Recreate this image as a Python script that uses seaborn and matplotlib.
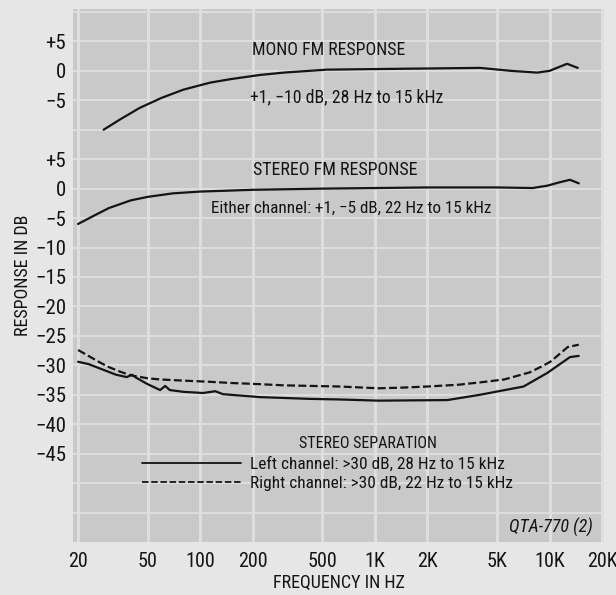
import matplotlib
matplotlib.use("Agg")
import matplotlib.pyplot as plt
import pandas as pd
import seaborn as sns
from matplotlib import font_manager
from matplotlib.lines import Line2D

# ---- Frequency response readings (frequency in Hz, level in dB) ----
mono_freq = [28, 35, 45, 60, 80, 114, 150, 220, 300, 530, 1000, 2000, 4000,
             6000, 8500, 10000, 12600, 14500]
mono_db = [-10.0, -8.2, -6.3, -4.6, -3.2, -2.0, -1.4, -0.7, -0.3, 0.2, 0.3,
           0.4, 0.5, 0.0, -0.3, 0.0, 1.2, 0.5]

stereo_freq = [20, 25, 30, 40, 50, 70, 100, 200, 500, 1000, 2000, 5000, 8000,
               9700, 11500, 13100, 14700]
stereo_db = [-6.0, -4.5, -3.3, -2.0, -1.4, -0.8, -0.5, -0.2, 0.0, 0.1, 0.2,
             0.2, 0.1, 0.5, 1.1, 1.5, 0.9]

left_freq = [20, 23, 27, 33, 38, 40.6, 43, 50, 59, 63, 67, 80, 104, 122, 135,
             220, 426, 630, 1050, 2600, 4000, 7100, 9700, 13100, 14700]
left_db = [-29.4, -29.8, -30.6, -31.6, -32.0, -31.6, -32.1, -33.2, -34.2,
           -33.5, -34.2, -34.5, -34.7, -34.4, -34.9, -35.4, -35.7, -35.8,
           -36.0, -35.9, -35.0, -33.6, -31.3, -28.6, -28.4]

right_freq = [20, 27, 30, 35, 40, 50, 59, 80, 114, 150, 220, 300, 630, 1050,
              1400, 2000, 3000, 4000, 5500, 7700, 9000, 10100, 11500, 12700,
              14700]
right_db = [-27.4, -29.6, -30.3, -31.1, -31.7, -32.2, -32.4, -32.6, -32.8,
            -33.0, -33.2, -33.4, -33.6, -33.9, -33.8, -33.6, -33.3, -32.9,
            -32.4, -31.2, -30.2, -29.4, -28.0, -26.9, -26.5]

x_ticks = [20, 50, 100, 200, 500, 1000, 2000, 5000, 10000, 20000]
x_tick_labels = ["20", "50", "100", "200", "500", "1K", "2K", "5K", "10K", "20K"]

mono_ticks = [5, 0, -5]
stereo_ticks = [5, 0, -5, -10, -15, -20, -25, -30, -35, -40, -45]

# mono trace sits on its own stacked scale, 20 dB above the stereo scale
MONO_OFFSET = 20

W, H = 616, 595
BG = "#e6e6e6"
PANEL = "#c9c9c9"
GRID = "#dedede"
INK = "#141414"
DASH = (3.6, 1.5)

sns.set_theme(style="white")


def pick_narrow_family():
    """Prefer a narrow/condensed sans face; fall back to DejaVu Sans."""
    entries = font_manager.fontManager.ttflist
    names = {f.name for f in entries}
    for fam in ["Liberation Sans Narrow", "Roboto Condensed",
                "DejaVu Sans Condensed", "Noto Sans Condensed",
                "Open Sans Condensed"]:
        if fam in names:
            return fam, "normal"
    for fam in ["DejaVu Sans", "Noto Sans", "Roboto", "Open Sans"]:
        for f in entries:
            if f.name == fam and f.stretch in ("condensed", "semi-condensed"):
                return fam, f.stretch
    return "DejaVu Sans", "normal"


FAMILY, STRETCH = pick_narrow_family()
plt.rcParams["font.family"] = [FAMILY, "DejaVu Sans"]
plt.rcParams["font.stretch"] = STRETCH
plt.rcParams["axes.unicode_minus"] = True


def sgn(v):
    if v > 0:
        return f"+{v}"
    if v < 0:
        return f"\u2212{abs(v)}"
    return "0"


frames = [
    pd.DataFrame({"freq": mono_freq,
                  "level": [v + MONO_OFFSET for v in mono_db],
                  "trace": "mono"}),
    pd.DataFrame({"freq": stereo_freq, "level": stereo_db, "trace": "stereo"}),
    pd.DataFrame({"freq": left_freq, "level": left_db, "trace": "left"}),
    pd.DataFrame({"freq": right_freq, "level": right_db, "trace": "right"}),
]
df = pd.concat(frames, ignore_index=True)

fig = plt.figure(figsize=(W / 100, H / 100), dpi=100, facecolor=BG)
ax = fig.add_axes([73 / W, 1 - 542 / H, (604 - 73) / W, (542 - 9) / H])
ax.set_facecolor(PANEL)

sns.lineplot(
    data=df, x="freq", y="level", hue="trace", style="trace",
    palette={"mono": INK, "stereo": INK, "left": INK, "right": INK},
    dashes={"mono": "", "stereo": "", "left": "", "right": DASH},
    estimator=None, sort=False, legend=False, linewidth=1.6, ax=ax,
)

ax.set_xscale("log")
ax.set_xlim(18.7, 20500)
ax.set_ylim(-60.0, 30.5)

ax.set_xticks(x_ticks)
ax.set_xticklabels(x_tick_labels, fontsize=14.5)
ax.xaxis.set_minor_locator(matplotlib.ticker.NullLocator())

y_pos = [v + MONO_OFFSET for v in mono_ticks] + stereo_ticks
y_lab = [sgn(v) for v in mono_ticks] + [sgn(v) for v in stereo_ticks]
ax.set_yticks(y_pos)
ax.set_yticklabels(y_lab, fontsize=15)

ax.tick_params(axis="both", length=0, colors=INK)
ax.tick_params(axis="x", pad=7)
ax.tick_params(axis="y", pad=5)

ax.grid(True, axis="x", color=GRID, linewidth=2.2)
for yv in range(-55, 31, 5):
    ax.axhline(yv, color=GRID, linewidth=1.4, zorder=0.5)
ax.set_axisbelow(True)
for s in ax.spines.values():
    s.set_visible(False)

ax.set_xlabel("FREQUENCY IN HZ", fontsize=13, labelpad=2, color=INK)
ax.set_ylabel("RESPONSE IN DB", fontsize=13, labelpad=2, color=INK)


def fpos(x, y):
    return x / W, 1 - y / H


def note(x, y, s, size, **kw):
    fig.text(*fpos(x, y), s, fontsize=size, ha="center", va="center",
             color=INK, **kw)


note(329, 50, "MONO FM RESPONSE", 12.8)
note(347, 97, "+1, \u221210 dB, 28 Hz to 15 kHz", 12.8)
note(335, 170, "STEREO FM RESPONSE", 13)
note(351, 208, "Either channel: +1, \u22125 dB, 22 Hz to 15 kHz", 12.3)
note(368, 443, "STEREO SEPARATION", 11.5)
fig.text(*fpos(593, 527), "QTA-770 (2)", fontsize=13, ha="right",
         va="center", style="italic", color=INK)

handles = [
    Line2D([], [], color=INK, linewidth=1.3),
    Line2D([], [], color=INK, linewidth=1.3, dashes=DASH),
]
labels = ["Left channel: >30 dB, 28 Hz to 15 kHz",
          "Right channel: >30 dB, 22 Hz to 15 kHz"]
fig.legend(handles, labels, loc="upper left",
           bbox_to_anchor=fpos(142, 457), frameon=False, fontsize=12.4,
           handlelength=5.75, handletextpad=0.5, labelspacing=0.2,
           borderpad=0, borderaxespad=0, labelcolor=INK)

fig.savefig("out.png", dpi=100, facecolor=BG)
